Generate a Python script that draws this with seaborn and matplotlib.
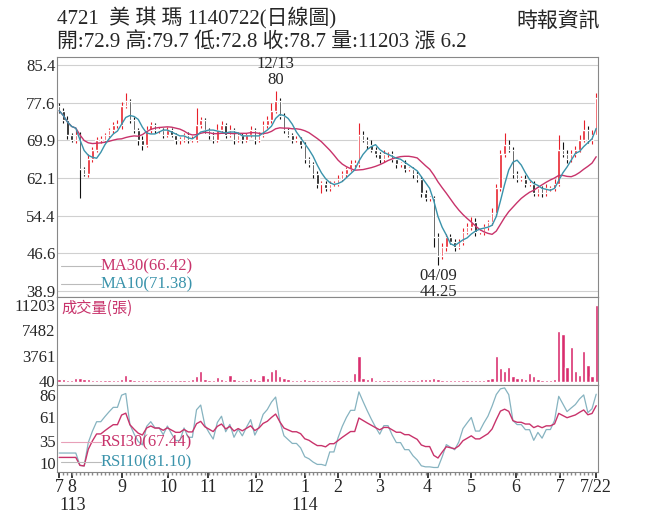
import numpy as np
import pandas as pd
import matplotlib
matplotlib.use("Agg")
import matplotlib.pyplot as plt
import seaborn as sns

# closes (about one candle every two trading days)
closes = [
    76, 74, 71, 70, 71, 64, 63, 66, 68, 70,
    70, 71, 72, 73, 73, 77, 78, 74, 72, 70,
    69, 72, 73, 72, 72, 71, 72, 71, 70, 70,
    71, 70, 70, 73, 74, 72, 71, 70, 72, 73,
    71, 72, 70, 71, 70, 71, 72, 70, 71, 73,
    74, 76, 78, 75, 72, 71, 70, 70, 69, 66,
    65, 63, 61, 61, 60, 61, 61, 62, 63, 64,
    65, 65, 71, 70, 69, 68, 67, 66, 67, 67,
    66, 65, 65, 64, 64, 63, 62, 59, 58, 58,
    50, 46, 48, 50, 49, 48, 49, 51, 52, 53,
    51, 51, 52, 53, 55, 60, 67, 69, 68, 63,
    62, 62, 61, 61, 59, 60, 59, 60, 60, 61,
    68, 67, 66, 67, 68, 70, 72, 70, 71, 78.7,
]
first_open = 77
wick_up = [
    0.5, 0.5, 0.8, 0.5, 1.0, 0.6, 0.5, 1.0, 0.6, 0.5,
    0.8, 0.5, 0.5, 0.6, 1.0, 0.8, 1.7, 0.5, 0.6, 0.5,
    0.8, 0.9, 0.6, 0.5, 0.7, 0.5, 0.6, 0.5, 0.5, 0.5,
    0.5, 0.6, 0.8, 3.5, 0.6, 0.5, 0.5, 0.6, 1.2, 0.8,
    0.5, 1.0, 0.5, 0.6, 0.5, 0.5, 0.9, 0.5, 0.6, 0.8,
    1.0, 1.5, 2.0, 0.6, 0.5, 0.5, 0.5, 0.8, 0.5, 0.5,
    0.5, 0.5, 0.5, 0.5, 0.5, 0.6, 0.5, 0.8, 0.6, 0.5,
    0.8, 0.9, 2.5, 0.8, 0.5, 1.0, 0.5, 0.5, 0.8, 0.5,
    0.6, 0.5, 0.5, 0.8, 0.5, 0.5, 0.5, 0.5, 0.6, 0.5,
    0.5, 0.9, 0.8, 0.6, 0.5, 0.5, 0.6, 0.8, 0.9, 1.0,
    0.8, 0.5, 0.6, 0.5, 0.9, 1.0, 0.8, 2.5, 1.0, 0.5,
    0.6, 0.5, 0.8, 0.5, 0.5, 0.6, 0.5, 0.8, 0.5, 0.9,
    3.0, 1.5, 0.8, 1.0, 0.8, 1.0, 2.0, 0.8, 1.0, 1.0,
]
wick_dn = [
    0.5, 0.5, 0.8, 0.5, 0.6, 6.0, 0.5, 0.6, 0.5, 0.5,
    0.6, 0.5, 0.5, 0.6, 0.5, 0.8, 0.5, 0.6, 0.5, 1.0,
    1.2, 0.5, 0.6, 0.5, 0.5, 0.6, 0.5, 0.5, 0.8, 0.9,
    0.5, 0.6, 0.5, 0.5, 0.6, 0.5, 0.8, 0.6, 0.5, 0.5,
    0.6, 0.5, 0.8, 0.5, 0.6, 0.5, 0.5, 0.9, 0.5, 0.5,
    0.5, 0.6, 0.5, 0.8, 0.6, 0.5, 0.6, 0.5, 0.6, 0.8,
    0.6, 0.8, 0.9, 2.0, 0.6, 0.5, 0.6, 0.5, 0.5, 0.6,
    0.5, 0.5, 0.6, 0.5, 0.8, 0.5, 0.6, 0.8, 0.5, 0.6,
    0.5, 0.8, 0.5, 0.6, 0.5, 0.8, 0.6, 0.8, 0.6, 0.5,
    2.0, 1.8, 0.6, 0.8, 0.5, 0.9, 0.5, 0.6, 0.5, 0.5,
    0.8, 0.5, 0.6, 0.5, 0.5, 0.6, 0.5, 0.6, 0.5, 0.8,
    0.6, 0.5, 0.8, 0.5, 0.6, 0.5, 0.8, 0.6, 0.5, 0.6,
    0.5, 0.6, 0.8, 0.5, 0.6, 0.5, 0.5, 0.6, 0.8, 0.1,
]
volumes = [
    400, 350, 300, 250, 500, 600, 450, 400, 300, 250,
    200, 250, 300, 250, 300, 350, 1000, 400, 300, 250,
    200, 250, 200, 250, 200, 250, 300, 250, 200, 250,
    300, 250, 400, 900, 1500, 400, 300, 300, 700, 400,
    300, 1000, 400, 300, 250, 300, 500, 400, 300, 1000,
    600, 1500, 1800, 900, 500, 400, 300, 250, 300, 400,
    300, 250, 200, 250, 300, 250, 200, 250, 300, 250,
    300, 1200, 3700, 600, 400, 700, 300, 250, 300, 250,
    200, 250, 300, 250, 200, 250, 300, 350, 450, 400,
    500, 400, 300, 250, 300, 250, 200, 250, 300, 250,
    200, 250, 300, 350, 500, 3700, 2000, 1500, 2200, 800,
    600, 500, 400, 1200, 800, 400, 300, 250, 300, 350,
    7400, 6900, 2200, 5000, 1500, 1000, 4500, 2500, 800, 11203,
]
month_pos = [0, 3.1, 15, 26.2, 35.8, 47.2, 59.1, 67, 77, 88.5, 99, 109.7, 120.4, 129]
month_labels = ["7", "8", "9", "10", "11", "12", "1", "2", "3", "4", "5", "6", "7", "7/22"]
price_ticks = [38.9, 46.6, 54.4, 62.1, 69.9, 77.6, 85.4]
vol_ticks = [40, 3761, 7482, 11203]
rsi_ticks = [10, 35, 61, 86]

sns.set_theme(style="white")
plt.rcParams['font.family'] = ['Liberation Serif', 'Noto Sans CJK TC']

MA30_C = '#c8336b'
MA10_C = '#3a93ab'
RSI10_C = '#86b3c0'
GRID_C = '#d0d0d0'

df = pd.DataFrame({'close': closes, 'up': wick_up, 'dn': wick_dn, 'vol': volumes})
df['open'] = df['close'].shift(1).fillna(first_open)
df['high'] = df[['open', 'close']].max(axis=1) + df['up']
df['low'] = df[['open', 'close']].min(axis=1) - df['dn']
df['ma10'] = df['close'].rolling(5, min_periods=1).mean()
df['ma30'] = df['close'].rolling(15, min_periods=1).mean()


def rsi(series, n):
    d = series.diff().fillna(0)
    g = d.clip(lower=0).ewm(alpha=1 / n, adjust=False).mean()
    l = (-d.clip(upper=0)).ewm(alpha=1 / n, adjust=False).mean()
    return 100 * g / (g + l + 1e-9)


df['rsi10'] = rsi(df['close'], 5).clip(5, 95)
df['rsi30'] = rsi(df['close'], 15)
df.loc[0:3, 'rsi10'] = df['rsi10'][4]
df.loc[0:3, 'rsi30'] = df['rsi30'][4]
x = np.arange(len(df))

fig = plt.figure(figsize=(6.56, 5.25), dpi=100)
axp = fig.add_axes([0.087, 0.434, 0.825, 0.457])
axv = fig.add_axes([0.087, 0.267, 0.825, 0.167], sharex=axp)
axr = fig.add_axes([0.087, 0.101, 0.825, 0.166], sharex=axp)

# price panel
for t in price_ticks:
    axp.axhline(t, color=GRID_C, lw=0.8, zorder=0)
up = df['close'] >= df['open']
colors = np.where(up, '#e8202a', '#111111')
axp.vlines(x, df['low'], df['high'], colors=colors, lw=0.8, zorder=2)
axp.bar(x, (df['close'] - df['open']).abs().clip(lower=0.15), bottom=df[['open', 'close']].min(axis=1),
        width=0.6, color=colors, zorder=3)
sns.lineplot(x=x, y=df['ma30'], ax=axp, color=MA30_C, lw=1.0, zorder=4)
sns.lineplot(x=x, y=df['ma10'], ax=axp, color=MA10_C, lw=1.0, zorder=4)
axp.set_ylim(37.6, 87.0)
axp.set_yticks(price_ticks)
axp.set_yticklabels([f"{t:.1f}" for t in price_ticks])

ih = int(df['high'].idxmax())
il = int(df['low'].idxmin())
axp.text(ih, df['high'][ih] + 0.6, "12/13\n80", ha='center', va='bottom', fontsize=12, linespacing=1.0)
axp.text(il, df['low'][il] - 0.6, "04/09\n44.25", ha='center', va='top', fontsize=12, linespacing=1.0)

axp.plot([0.5, 10], [44.0, 44.0], color='#bbbbbb', lw=0.8)
axp.text(10, 44.0, "MA30(66.42)", color=MA30_C, fontsize=12, va='center')
axp.plot([0.5, 10], [40.3, 40.3], color='#bbbbbb', lw=0.8)
axp.text(10, 40.3, "MA10(71.38)", color=MA10_C, fontsize=12, va='center')

# volume panel
axv.bar(x, df['vol'], width=0.8, color='#d92e6e')
axv.set_ylim(-450, 12300)
axv.set_yticks(vol_ticks)
axv.text(0.5, 10700, "成交量(張)", color=MA30_C, fontsize=11, va='center',
         family=['Noto Sans CJK TC', 'Liberation Serif'])

# RSI panel
sns.lineplot(x=x, y=df['rsi10'], ax=axr, color=RSI10_C, lw=0.9)
sns.lineplot(x=x, y=df['rsi30'], ax=axr, color=MA30_C, lw=1.0)
axr.set_ylim(0, 97)
axr.set_yticks(rsi_ticks)
axr.plot([0.5, 10], [33, 33], color='#e8a0b8', lw=0.8)
axr.text(10, 33, "RSI30(67.44)", color=MA30_C, fontsize=12, va='center')
axr.plot([0.5, 10], [11, 11], color='#bbbbbb', lw=0.8)
axr.text(10, 11, "RSI10(81.10)", color=MA10_C, fontsize=12, va='center')

for ax in (axp, axv, axr):
    ax.set_xlim(-0.5, len(df) - 0.5)
    ax.set_ylabel("")
    ax.set_xlabel("")
    ax.tick_params(axis='y', labelsize=12, pad=1, length=0)
    for s in ax.spines.values():
        s.set_color('#888888')
        s.set_linewidth(0.8)
for ax in (axp, axv):
    ax.tick_params(axis='x', bottom=False, labelbottom=False)

axr.set_xticks(month_pos)
axr.set_xticklabels(month_labels)
axr.set_xticks(x, minor=True)
axr.tick_params(axis='x', which='major', labelsize=13, length=4, pad=1, bottom=True)
axr.tick_params(axis='x', which='minor', length=2, bottom=True, color='#888888')
axr.text(0, -28, "113", ha='left', va='top', fontsize=13)
axr.text(59.1, -28, "114", ha='center', va='top', fontsize=13)

fig.text(0.087, 0.965, "4721  美 琪 瑪 1140722(日線圖)", fontsize=15, va='center')
fig.text(0.087, 0.918, "開:72.9 高:79.7 低:72.8 收:78.7 量:11203 漲 6.2", fontsize=15, va='center')
fig.text(0.915, 0.958, "時報資訊", fontsize=15, va='center', ha='right')

fig.savefig("out.png", dpi=100)
